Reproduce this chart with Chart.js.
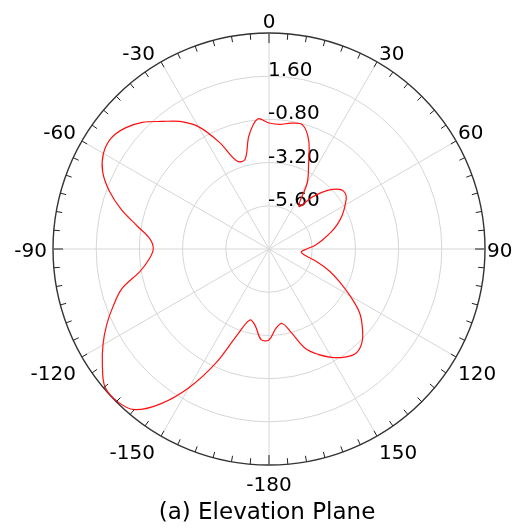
<!DOCTYPE html>
<html>
<head>
<meta charset="utf-8">
<title>Elevation Plane</title>
<script src="https://cdn.jsdelivr.net/npm/chart.js@4.4.1/dist/chart.umd.min.js"></script>
<style>
  html, body { margin: 0; padding: 0; background: #fff; }
  canvas { display: block; }
</style>
</head>
<body>
<canvas id="chart" width="512" height="529"></canvas>
<script>
// angle (deg, clockwise from top) and gain in dB
const angles = [
  0, 5, 10, 15, 20, 25, 30, 35, 40, 45, 50, 55,
  60, 65, 70, 75, 80, 85, 90, 95, 100, 105, 110, 115,
  120, 125, 130, 135, 140, 145, 150, 155, 160, 165, 170, 175,
  180, 185, 190, 195, 200, 205, 210, 215, 220, 225, 230, 235,
  240, 245, 250, 255, 260, 265, 270, 275, 280, 285, 290, 295,
  300, 305, 310, 315, 320, 325, 330, 335, 340, 345, 350, 355
];
const gainDb = [
  -1.0, -1.05, -0.9, -0.85, -1.56, -2.8, -3.75, -5.1, -4.2, -3.4, -2.85, -2.78,
  -3.12, -3.5, -3.95, -4.45, -4.95, -5.4, -5.9, -6.2, -5.97, -5.25, -4.43, -3.66,
  -2.8, -1.87, -1.23, -0.69, -0.46, -0.67, -1.05, -1.54, -2.13, -3.18, -3.8, -3.58,
  -2.95, -2.95, -3.65, -3.92, -3.0, -1.0, 0.9, 2.5, 3.65, 3.95, 3.9, 3.3,
  2.65, 1.95, 1.2, 0.45, -0.7, -1.3, -1.57, -1.35, -0.55, 0.5, 1.45, 2.2,
  2.62, 2.72, 2.45, 1.95, 1.25, 0.65, -0.15, -1.45, -2.8, -2.85, -1.6, -0.75
];
const labelAngles = [0, 30, 60, 90, 120, 150, 180, 210, 240, 270, 300, 330];
const labelTexts = ['0', '30', '60', '90', '120', '150', '-180', '-150', '-120', '-90', '-60', '-30'];
const ringValues = [-5.6, -3.2, -0.8, 1.6];
const rMin = -8;
const rMax = 4;
const titleText = '(a) Elevation Plane';

const FONT = '"DejaVu Sans", Verdana, sans-serif';

function polar(scale, deg, r) {
  const a = deg * Math.PI / 180 - Math.PI / 2;
  return { x: scale.xCenter + r * Math.cos(a), y: scale.yCenter + r * Math.sin(a) };
}

const decorPlugin = {
  id: 'decor',
  beforeDatasetsDraw(chart) {
    const s = chart.scales.r;
    const ctx = chart.ctx;
    ctx.save();
    ctx.fillStyle = '#000';
    ctx.font = '20px ' + FONT;
    ctx.textAlign = 'left';
    ctx.textBaseline = 'alphabetic';
    ringValues.forEach(v => {
      const d = s.getDistanceFromCenterForValue(v);
      ctx.fillText(v.toFixed(2), s.xCenter - 1, s.yCenter - d);
    });
    ctx.restore();
  },
  afterDraw(chart) {
    const s = chart.scales.r;
    const ctx = chart.ctx;
    const R = s.drawingArea;
    ctx.save();
    // small ticks on the outer ring every 5 degrees
    ctx.strokeStyle = '#222';
    ctx.lineWidth = 1;
    for (let deg = 0; deg < 360; deg += 5) {
      const len = deg % 90 === 0 ? 10 : 6;
      const p1 = polar(s, deg, R);
      const p2 = polar(s, deg, R - len);
      ctx.beginPath();
      ctx.moveTo(p1.x, p1.y);
      ctx.lineTo(p2.x, p2.y);
      ctx.stroke();
    }
    // angle labels
    ctx.fillStyle = '#000';
    ctx.font = '20px ' + FONT;
    labelAngles.forEach((deg, i) => {
      const p = polar(s, deg, R);
      const sn = Math.sin(deg * Math.PI / 180);
      const cs = Math.cos(deg * Math.PI / 180);
      let x = p.x, y;
      if (sn > 0.1) { ctx.textAlign = 'left'; x += 2; }
      else if (sn < -0.1) { ctx.textAlign = 'right'; x -= 6; }
      else { ctx.textAlign = 'center'; }
      if (cs > 0.99) y = p.y - 5;
      else if (cs > 0.1) y = p.y - 2;
      else if (cs < -0.99) y = p.y + 26;
      else if (cs < -0.1) y = p.y + 23;
      else y = p.y + 8;
      ctx.textBaseline = 'alphabetic';
      ctx.fillText(labelTexts[i], x, y);
    });
    // caption
    ctx.font = '23px ' + FONT;
    ctx.textAlign = 'center';
    ctx.fillText(titleText, 267, 519);
    ctx.restore();
  }
};

new Chart(document.getElementById('chart'), {
  type: 'radar',
  data: {
    labels: angles,
    datasets: [{
      data: gainDb,
      borderColor: '#ff1010',
      borderWidth: 1.2,
      fill: false,
      pointRadius: 0,
      tension: 0.35
    }]
  },
  options: {
    responsive: false,
    animation: false,
    layout: { padding: { left: 53, right: 27, top: 33, bottom: 63 } },
    plugins: { legend: { display: false }, tooltip: { enabled: false } },
    scales: {
      r: {
        min: rMin,
        max: rMax,
        ticks: { stepSize: 2.4, display: false },
        pointLabels: { display: false },
        grid: {
          circular: true,
          color: c => (c.tick && c.tick.value >= rMax - 0.01) ? '#333' : '#d6d6d6',
          lineWidth: c => (c.tick && c.tick.value >= rMax - 0.01) ? 1.4 : 1
        },
        angleLines: {
          color: c => angles[c.index] % 30 === 0 ? '#d6d6d6' : 'rgba(0,0,0,0)',
          lineWidth: c => angles[c.index] % 30 === 0 ? 1 : 0
        }
      }
    }
  },
  plugins: [decorPlugin]
});
</script>
</body>
</html>
